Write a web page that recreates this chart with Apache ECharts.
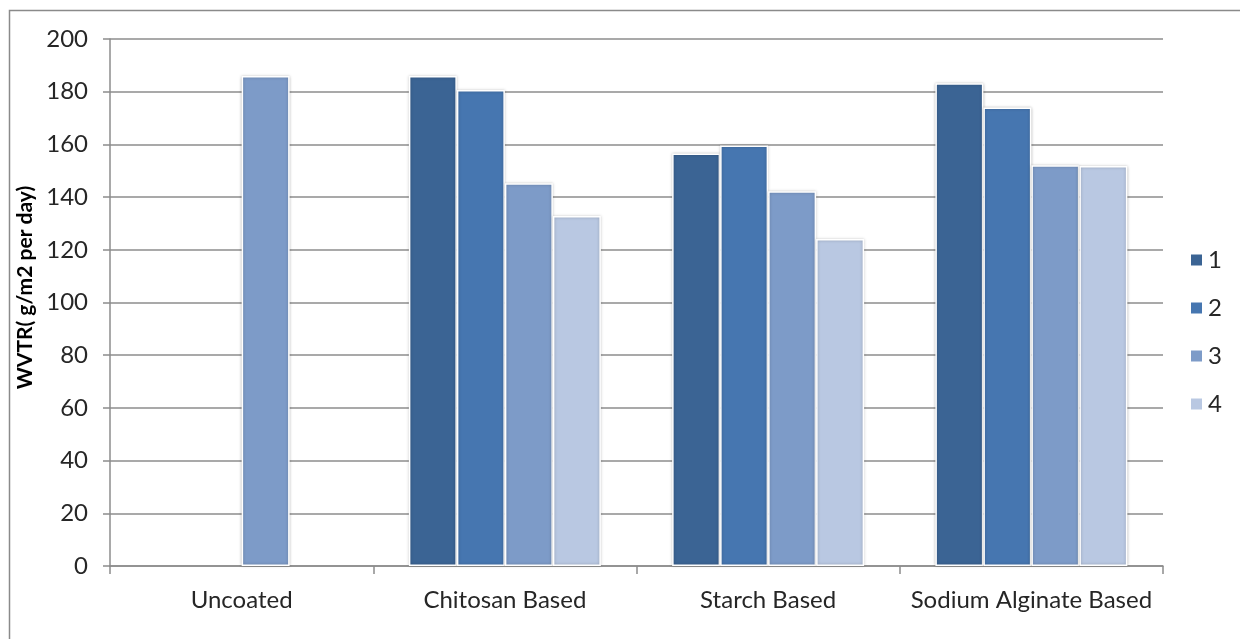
<!DOCTYPE html>
<html>
<head>
<meta charset="utf-8">
<script src="https://cdn.jsdelivr.net/npm/echarts@6/dist/echarts.min.js"></script>
<style>html,body{margin:0;padding:0;background:#fff}#c{width:1240px;height:639px}</style>
</head>
<body>
<div id="c"></div>
<script>
const categories = ['Uncoated', 'Chitosan Based', 'Starch Based', 'Sodium Alginate Based'];
const seriesNames = ['1', '2', '3', '4'];
const s1 = [null, 186, 156.5, 183.2];
const s2 = [null, 180.6, 159.6, 174];
const s3 = [186, 145.3, 142.2, 152.1];
const s4 = [null, 132.8, 124.1, 151.8];
const yTicks = [0, 20, 40, 60, 80, 100, 120, 140, 160, 180, 200];
const colors = ['#3b6494', '#4676b0', '#7d9bc8', '#b9c8e2'];

const FONT = 'Lato';
const chart = echarts.init(document.getElementById('c'));
const data = [s1, s2, s3, s4];
chart.setOption({
  animation: false,
  textStyle: { fontFamily: FONT },
  graphic: [{
    type: 'rect', left: 7, top: 8, shape: { width: 1300, height: 700 },
    style: { fill: 'none', stroke: '#8a8a8a', lineWidth: 1.5 }, z: -1
  }],
  grid: { left: 110, right: 77, top: 39, bottom: 73 },
  legend: {
    orient: 'vertical', left: 1184, top: 243, itemGap: 24,
    itemWidth: 13, itemHeight: 13, icon: 'rect',
    textStyle: { fontSize: 24, color: '#262626', fontFamily: FONT },
    data: seriesNames
  },
  xAxis: {
    type: 'category', data: categories,
    axisLine: { lineStyle: { color: '#8c8c8c', width: 1.5 } },
    axisTick: { show: true, interval: 0, length: 8, lineStyle: { color: '#8c8c8c', width: 1.5 } },
    axisLabel: { interval: 0, fontSize: 24, color: '#262626', margin: 22, fontFamily: FONT }
  },
  yAxis: {
    type: 'value', min: 0, max: 200, interval: 20,
    name: 'WVTR( g/m2 per day)', nameLocation: 'middle', nameRotate: 90, nameGap: 72,
    nameTextStyle: { fontSize: 21, fontWeight: 'bold', color: '#000', fontFamily: FONT,
      padding: [0, 0, 0, 30] },
    axisLine: { show: true, lineStyle: { color: '#8c8c8c', width: 1.5 } },
    axisTick: { show: true, length: 7, lineStyle: { color: '#8c8c8c', width: 1.5 } },
    splitLine: { lineStyle: { color: '#8c8c8c', width: 1.5 } },
    axisLabel: { fontSize: 24, color: '#262626', margin: 22, fontFamily: FONT,
      formatter: v => yTicks.includes(v) ? String(v) : '' }
  },
  series: seriesNames.map((n, i) => ({
    name: n, type: 'bar', data: data[i], barWidth: 48, barGap: '0%',
    itemStyle: { color: colors[i], borderColor: '#fff', borderWidth: 1.5,
      shadowBlur: 3, shadowColor: 'rgba(0,0,0,0.25)' }
  }))
});
</script>
</body>
</html>
